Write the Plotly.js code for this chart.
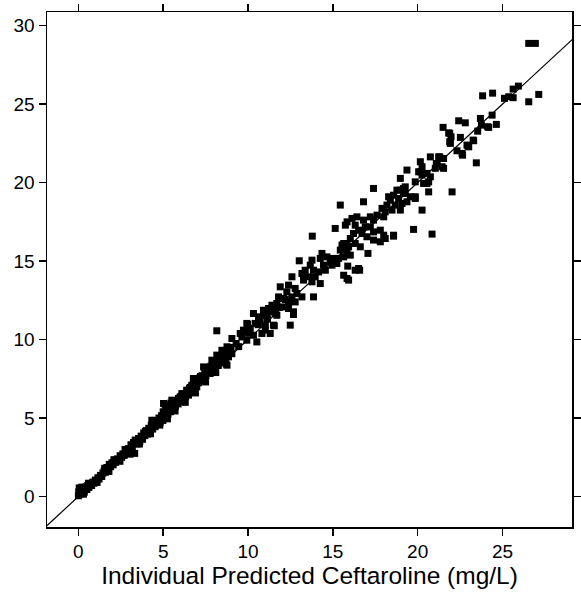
<!DOCTYPE html>
<html>
<head>
<meta charset="utf-8">
<script src="https://cdn.plot.ly/plotly-3.0.1.min.js"></script>
<style>html,body{margin:0;padding:0;background:#fff;}#chart{width:581px;height:594px;}</style>
</head>
<body>
<div id="chart"></div>
<script>
// Individual predicted (x) vs observed (y) ceftaroline concentrations, mg/L
var predLow = [0.00,0.02,0.05,0.08,0.10,0.15,0.20,0.25,0.30,0.35,0.40,0.45,0.50,0.55,0.62,0.70,0.78,0.85,0.92,1.00,1.08,1.15,1.22,1.30,1.38,1.45,1.52,1.60,1.68,1.75,1.82,1.90,1.98,2.05,2.12,2.20,2.30,2.38,2.46,2.55,2.62,2.70,2.80,2.88,2.95,3.02,3.10,3.18,3.25,3.32,3.40,3.48,3.55,3.62,3.70,3.78,3.85,3.92,4.00,4.08,4.15,4.22,4.30,4.33,4.38,4.45,4.52,4.60,4.68,4.75,4.82,4.90,4.98,5.05,5.12,5.20,5.28,5.35,5.42,5.50,5.58,5.65,5.72,5.80,5.88,5.95,6.02,6.10,6.18,6.25,6.32,6.40,6.48,6.55,6.62,6.70,6.78,6.85,6.92,7.00,7.08,7.15,7.22,7.30,7.38,7.45,7.52,7.60,7.68,7.75,7.85,7.95,8.05,8.15,8.25,8.35,8.45,8.55,8.65,8.75,8.85,8.95,9.05];
var obsLow  = [0.05,0.30,0.55,0.15,0.42,0.20,0.60,0.35,0.48,0.28,0.50,0.62,0.45,0.70,0.58,0.78,0.70,0.92,0.85,1.05,0.98,1.20,1.12,1.35,1.28,1.50,1.62,1.55,1.85,1.70,2.05,1.90,2.15,2.02,2.30,2.18,2.40,2.28,2.60,2.50,2.72,2.62,2.85,2.75,3.05,2.90,3.30,3.10,3.45,2.75,3.55,3.35,3.70,3.50,3.85,3.65,4.05,3.88,4.20,3.98,4.35,4.10,4.55,4.86,4.30,4.70,4.45,4.80,4.60,5.00,4.72,5.15,4.85,5.35,5.05,5.55,5.25,5.70,5.40,5.85,5.60,5.95,5.75,6.10,5.90,6.25,6.05,6.40,6.20,6.55,6.35,6.75,6.55,6.90,6.70,7.05,6.85,7.20,7.05,7.40,7.25,7.55,7.35,7.70,7.50,7.85,7.70,8.05,7.85,8.20,8.00,8.40,8.20,8.55,8.35,8.75,8.55,8.95,8.70,9.15,8.90,9.35,9.10];

// extra points thickening the dense low band
var predBand = [0.30,0.60,1.10,1.55,1.80,2.10,2.45,2.75,3.05,3.35,3.60,3.95,4.25,4.50,4.80,5.00,5.25,5.45,5.70,6.00,6.30,6.60,6.90,7.20,7.50,7.80,8.10,8.40,8.70,9.00];
var obsBand  = [0.15,0.85,0.90,1.80,1.60,2.35,2.25,3.00,2.70,3.60,3.35,4.15,4.00,4.85,4.55,5.40,4.95,5.95,5.45,6.35,6.00,6.95,6.60,7.65,7.30,8.30,7.90,8.90,8.45,9.50];

var predMidLow = [5.02,5.12,5.31,5.51,5.90,6.10,6.39,6.49,6.69,6.78,6.98,7.18,7.38,7.48,7.57,7.77,7.87,7.96,8.16,8.16,8.26,8.46,8.56,8.65,8.76,8.76,9.05,9.54,9.64,9.73,9.83,9.93,9.93,9.97,10.13,10.32,10.32,10.42,10.52,10.62,10.72,10.82,10.91,10.91,11.02,11.02,11.11,11.21,11.31,11.31,11.41,11.50,11.50,11.55,11.60,11.70,11.70,11.80,11.90,12.00,12.09,12.29,12.39,12.39,12.39,12.49,12.59,12.68,12.68,12.78,12.78,12.88,13.18,9.30,9.45,10.05,10.60,11.15,11.85,12.20];
var obsMidLow  = [5.93,5.82,5.82,6.14,6.25,6.56,6.78,6.46,7.09,7.52,6.99,7.52,8.26,7.73,8.05,7.84,8.69,8.37,9.01,10.56,8.69,9.32,8.80,9.11,9.54,8.37,10.07,10.39,10.17,10.60,10.49,9.96,11.03,10.98,10.71,10.28,11.66,11.03,9.85,11.45,11.13,10.39,11.87,11.55,10.92,10.60,11.55,11.98,11.77,10.39,12.19,12.08,10.92,10.88,11.66,12.30,11.55,12.72,13.36,12.08,12.62,13.04,13.47,12.40,11.98,10.92,12.72,11.77,11.60,13.26,12.40,12.94,12.72,9.75,9.55,10.40,10.95,11.30,12.05,12.55];

var predMid = [12.59,13.02,13.18,13.27,13.37,13.57,13.67,13.77,13.77,13.79,13.86,13.86,13.96,14.16,14.26,14.26,14.36,14.45,14.56,14.65,14.85,14.95,15.04,15.14,15.24,15.34,15.44,15.44,15.54,15.64,15.64,15.64,15.74,15.74,15.84,15.84,15.84,15.84,15.88,15.93,15.93,16.03,16.03,16.13,16.22,16.32,16.32,16.32,16.42,16.52,16.52,16.58,16.62,16.72,16.81,16.91,17.01,17.07,17.21,17.40,17.40,17.80,17.80,18.00,18.09,18.58];
var obsMid  = [14.00,15.02,14.21,13.79,14.42,14.00,14.74,15.06,13.68,16.59,14.42,12.72,14.00,14.31,15.17,13.57,15.49,14.74,14.42,15.27,14.95,14.74,15.17,17.08,14.85,15.17,15.70,18.57,16.02,16.12,15.27,14.10,17.29,15.81,17.50,16.12,15.49,13.89,14.68,15.91,13.79,16.44,15.38,17.72,16.76,17.29,16.12,14.42,17.82,16.97,14.53,14.42,15.91,16.76,17.61,17.18,16.55,15.49,17.18,16.86,16.34,16.97,16.23,16.65,16.44,16.65];

var predHigh = [16.81,17.21,17.40,17.40,17.61,17.90,18.00,18.09,18.19,18.29,18.39,18.49,18.58,18.58,18.68,18.78,18.88,18.98,18.98,18.98,19.08,19.17,19.17,19.27,19.27,19.37,19.37,19.57,19.76,19.86,19.86,19.86,20.06,20.16,20.16,20.26,20.26,20.26,20.35,20.55,20.55,20.65,20.65,20.75,20.75,20.85,21.04,21.10,21.14,21.24,21.30,21.34,21.44,21.50,21.53,21.53,21.83,21.89,21.89,21.93,21.97,22.03,22.32,22.42,22.52,22.62,22.65,22.81,22.91,22.97,23.01,23.27,23.30,23.46,23.54,23.70,23.76,23.83,24.13,24.19,24.39,24.42,24.64,25.12,25.37,25.63,25.63,25.94,26.55,26.55,26.94,27.14];
var obsHigh  = [18.78,17.82,19.63,17.61,17.93,18.36,17.82,18.14,18.57,19.10,18.88,18.25,19.20,16.59,18.57,19.52,18.99,20.27,18.25,19.52,18.67,19.63,19.41,19.31,19.73,20.80,18.78,19.10,17.02,20.05,18.99,19.10,20.69,21.33,20.69,21.01,20.48,18.25,19.95,20.59,19.95,19.41,20.05,21.64,20.37,16.72,20.91,21.22,21.22,21.64,21.64,21.54,21.01,23.52,21.54,20.91,23.17,23.14,22.60,22.50,22.92,19.41,22.03,23.94,22.88,21.86,21.75,23.81,22.39,22.33,22.28,22.71,22.67,21.26,23.28,24.09,23.66,25.53,23.56,23.52,24.30,25.70,23.71,25.37,25.47,25.41,25.96,26.15,25.15,28.87,28.87,25.62];

var identityLine = [-5, 35];
var xTicks = [0, 5, 10, 15, 20, 25];
var yTicks = [0, 5, 10, 15, 20, 25, 30];

var pred = predLow.concat(predBand, predMidLow, predMid, predHigh);
var obs = obsLow.concat(obsBand, obsMidLow, obsMid, obsHigh);

var font = 'Liberation Sans, Arial, Helvetica, sans-serif';

var traces = [
  {
    x: identityLine, y: identityLine, type: 'scatter', mode: 'lines',
    line: {color: '#000', width: 1.2}, hoverinfo: 'skip', showlegend: false
  },
  {
    x: pred, y: obs, type: 'scatter', mode: 'markers',
    marker: {symbol: 'square', size: 7, color: '#000', line: {width: 0}},
    showlegend: false
  }
];

var axisCommon = {
  showgrid: false, zeroline: false, showline: true, linecolor: '#000', linewidth: 1.5,
  ticks: 'outside', ticklen: 7, tickwidth: 1.5, tickcolor: '#000', mirror: 'allticks',
  tickfont: {family: font, size: 19, color: '#000'}
};

var layout = {
  width: 581, height: 594,
  margin: {l: 47, r: 9, t: 12, b: 67},
  paper_bgcolor: '#fff', plot_bgcolor: '#fff',
  font: {family: font, color: '#000'},
  xaxis: Object.assign({}, axisCommon, {
    range: [-1.85, 29.1], tickvals: xTicks, ticktext: xTicks.map(String),
    title: {text: 'Individual Predicted Ceftaroline (mg/L)', font: {family: font, size: 24.5, color: '#000'}, standoff: 3}
  }),
  yaxis: Object.assign({}, axisCommon, {
    range: [-1.94, 30.87], tickvals: yTicks, ticktext: yTicks.map(String)
  })
};

Plotly.newPlot('chart', traces, layout, {staticPlot: true, displayModeBar: false});
</script>
</body>
</html>
